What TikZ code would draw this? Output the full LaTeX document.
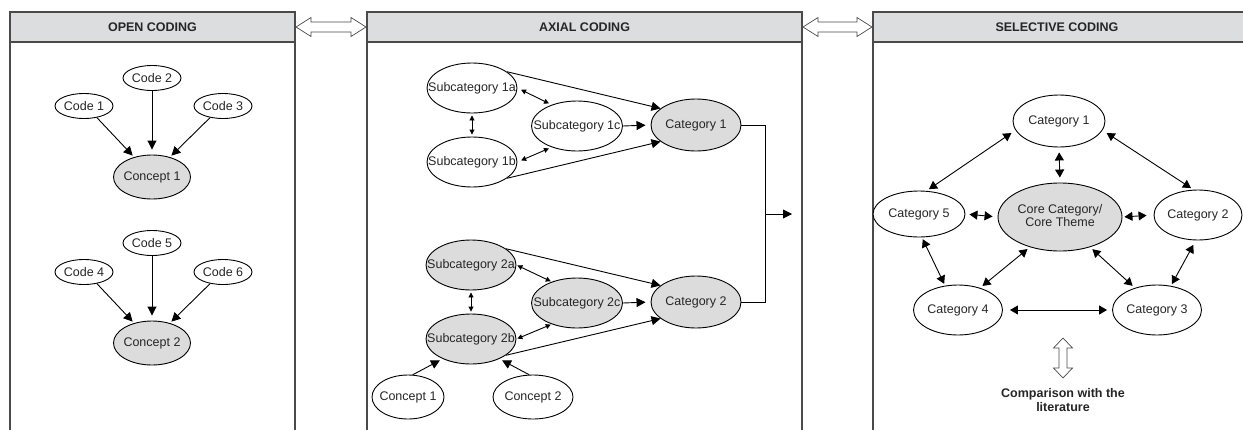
\documentclass[tikz,border=0pt]{standalone}
\usepackage{fontspec}
\setmainfont{Liberation Sans}
\usetikzlibrary{arrows.meta,shapes.geometric}
\definecolor{hdr}{HTML}{DCDDDE}
\definecolor{nodegray}{HTML}{DCDCDC}
\definecolor{frame}{HTML}{4A4A4A}
\newcommand\lb[1]{\makebox[0pt][c]{#1}}
\tikzset{
  panel/.style={draw=frame, line width=1.4pt},
  hdrtext/.style={font=\fontsize{12.5}{14}\selectfont\bfseries, text=black!85},
  ell/.style={ellipse, draw=black, line width=0.9pt, fill=white, inner sep=0pt,
              font=\fontsize{12.5}{15}\selectfont, text=black!85},
  shaded/.style={ell, fill=nodegray},
  arr/.style={-{Triangle[length=9pt,width=9pt]}, line width=0.9pt},
  darr/.style={{Triangle[length=8pt,width=9pt]}-{Triangle[length=8pt,width=9pt]}, line width=0.9pt},
  sdarr/.style={{Triangle[length=5pt,width=5pt]}-{Triangle[length=5pt,width=5pt]}, line width=0.9pt},
  bigarr/.style={draw=frame, line width=0.7pt, fill=white},
  lit/.style={font=\fontsize{12.5}{14.5}\selectfont\bfseries, text=black!85, align=center}
}
\begin{document}
\begin{tikzpicture}[x=1pt,y=-1pt]
\useasboundingbox (0,0) rectangle (1243,429);
\fill[white] (0,0) rectangle (1243,429);
\begin{scope}
\clip (0,0) rectangle (1243,429);
% ---------- panels ----------
\fill[hdr] (10,12) rectangle (295,42);
\fill[hdr] (367,12) rectangle (802,42);
\fill[hdr] (873,12) rectangle (1250,42);
\draw[panel] (10,435) -- (10,12) -- (295,12) -- (295,435);
\draw[panel] (10,42) -- (295,42);
\draw[panel] (367,435) -- (367,12) -- (802,12) -- (802,435);
\draw[panel] (367,42) -- (802,42);
\draw[panel] (873,435) -- (873,12) -- (1250,12);
\draw[panel] (873,42) -- (1250,42);
\end{scope}
\node[hdrtext] (h1) at (152.5,27) {OPEN CODING};
\node[hdrtext] (h2) at (584.5,27) {AXIAL CODING};
\node[hdrtext] (h3) at (1057,27) {SELECTIVE CODING};
% open double arrows between panels
\draw[bigarr] (296,27) -- (311,17.5) -- (311,22) -- (351,22) -- (351,17.5) -- (366,27)
  -- (351,36.5) -- (351,32) -- (311,32) -- (311,36.5) -- cycle;
\draw[bigarr] (803,27) -- (818,17.5) -- (818,22) -- (857,22) -- (857,17.5) -- (872,27)
  -- (857,36.5) -- (857,32) -- (818,32) -- (818,36.5) -- cycle;

% ---------- OPEN CODING ----------
\node[ell, minimum width=58pt, minimum height=25pt] (cd1) at (84,106) {\lb{Code 1}};
\node[ell, minimum width=58pt, minimum height=25pt] (cd2) at (152,78) {\lb{Code 2}};
\node[ell, minimum width=58pt, minimum height=25pt] (cd3) at (223,106) {\lb{Code 3}};
\node[shaded, minimum width=77pt, minimum height=44pt] (con1) at (152,177) {\lb{Concept 1}};
\draw[arr, shorten >=2pt] (cd1.-42) -- (con1.132);
\draw[arr, shorten >=5pt] (cd2.south) -- (con1.north);
\draw[arr, shorten >=2pt] (cd3.-138) -- (con1.48);

\node[ell, minimum width=58pt, minimum height=25pt] (cd4) at (84,272) {\lb{Code 4}};
\node[ell, minimum width=58pt, minimum height=25pt] (cd5) at (152,243) {\lb{Code 5}};
\node[ell, minimum width=58pt, minimum height=25pt] (cd6) at (223,272) {\lb{Code 6}};
\node[shaded, minimum width=77pt, minimum height=44pt] (con2) at (152,343) {\lb{Concept 2}};
\draw[arr, shorten >=2pt] (cd4.-42) -- (con2.132);
\draw[arr, shorten >=5pt] (cd5.south) -- (con2.north);
\draw[arr, shorten >=2pt] (cd6.-138) -- (con2.48);

% ---------- AXIAL CODING ----------
\node[ell, minimum width=90pt, minimum height=50pt] (s1a) at (472,88) {\lb{Subcategory 1a}};
\node[ell, minimum width=90pt, minimum height=50pt] (s1b) at (472,162) {\lb{Subcategory 1b}};
\node[ell, minimum width=91pt, minimum height=50pt] (s1c) at (577,126) {\lb{Subcategory 1c}};
\node[shaded, minimum width=90pt, minimum height=52pt] (cat1) at (696,125) {\lb{Category 1}};
\draw[arr] (s1a.25) -- (cat1.155);
\draw[arr] (s1b.-25) -- (cat1.205);
\draw[arr, shorten >=5pt] (s1c.east) -- (cat1.west);
\draw[sdarr, shorten <=2pt, shorten >=2pt] (s1a.south) -- (s1b.north);
\draw[sdarr, shorten <=4pt, shorten >=3pt] (s1a.east) -- (s1c.140);
\draw[sdarr, shorten <=4pt, shorten >=3pt] (s1b.east) -- (s1c.220);

\node[shaded, minimum width=90pt, minimum height=50pt] (s2a) at (471,265) {\lb{Subcategory 2a}};
\node[shaded, minimum width=90pt, minimum height=50pt] (s2b) at (471,339) {\lb{Subcategory 2b}};
\node[shaded, minimum width=91pt, minimum height=50pt] (s2c) at (577,303) {\lb{Subcategory 2c}};
\node[shaded, minimum width=90pt, minimum height=52pt] (cat2) at (696,302) {\lb{Category 2}};
\draw[arr] (s2a.25) -- (cat2.155);
\draw[arr] (s2b.-25) -- (cat2.205);
\draw[arr, shorten >=5pt] (s2c.east) -- (cat2.west);
\draw[sdarr, shorten <=2pt, shorten >=2pt] (s2a.south) -- (s2b.north);
\draw[sdarr, shorten <=1pt, shorten >=1pt] (s2a.east) -- (s2c.140);
\draw[sdarr, shorten <=1pt, shorten >=1pt] (s2b.east) -- (s2c.220);

\node[ell, minimum width=72pt, minimum height=44pt] (ca1) at (408,397) {\lb{Concept 1}};
\node[ell, minimum width=80pt, minimum height=44pt] (ca2) at (533,397) {\lb{Concept 2}};
\draw[arr, shorten >=3pt] (ca1.78) -- (s2b.215);
\draw[arr, shorten >=3pt] (ca2.100) -- (s2b.-35);

\coordinate (j) at (765,214);
\coordinate (jend) at (792,214);
\draw[line width=0.9pt] (cat1.east) -| (j);
\draw[line width=0.9pt] (cat2.east) -| (j);
\draw[arr] (j) -- (jend);

% ---------- SELECTIVE CODING ----------
\node[ell, minimum width=92pt, minimum height=52pt] (t1) at (1059,121) {\lb{Category 1}};
\node[shaded, minimum width=124pt, minimum height=68pt] (core) at (1060,217)
  {\lb{\begin{tabular}{@{}c@{}}Core Category/\\[-2pt]Core Theme\end{tabular}}};
\node[ell, minimum width=92pt, minimum height=46pt] (t5) at (919,214) {\lb{Category 5}};
\node[ell, minimum width=88pt, minimum height=50pt] (t2) at (1198,215) {\lb{Category 2}};
\node[ell, minimum width=89pt, minimum height=50pt] (t4) at (958,310) {\lb{Category 4}};
\node[ell, minimum width=89pt, minimum height=50pt] (t3) at (1157,310) {\lb{Category 3}};

\draw[darr, shorten <=5pt, shorten >=3pt] (t1.192) -- (t5.72);
\draw[darr, shorten <=5pt, shorten >=3pt] (t1.-12) -- (t2.100);
\draw[darr, shorten <=5pt, shorten >=5pt] (t1.south) -- (core.north);
\draw[darr, shorten <=4pt, shorten >=5pt] (t5.east) -- (core.west);
\draw[darr, shorten <=2pt, shorten >=7pt] (core.east) -- (t2.west);
\draw[darr, shorten <=2pt, shorten >=2pt] (t5.-83) -- (t4.118);
\draw[darr, shorten <=3pt, shorten >=3pt] (core.225) -- (t4.45);
\draw[darr, shorten <=3pt, shorten >=3pt] (core.-45) -- (t3.135);
\draw[darr, shorten <=5pt, shorten >=2pt] (t2.-95) -- (t3.60);
\draw[darr, shorten <=7pt, shorten >=5pt] (t4.east) -- (t3.west);

% vertical open double arrow and text
\coordinate (va) at (1063,338);
\coordinate (vb) at (1063,378);
\draw[bigarr] (va) -- (1072.5,348) -- (1067,348) -- (1067,368) -- (1072.5,368) -- (vb)
  -- (1053.5,368) -- (1059,368) -- (1059,348) -- (1053.5,348) -- cycle;
\node[lit] (lit) at (1063,400) {Comparison with the\\literature};
\end{tikzpicture}
\end{document}
